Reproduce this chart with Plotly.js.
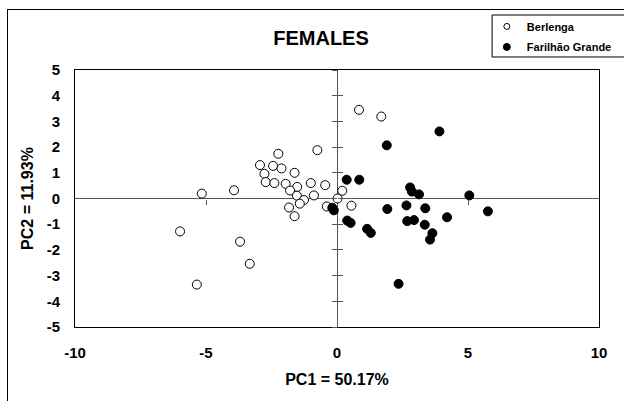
<!DOCTYPE html>
<html>
<head>
<meta charset="utf-8">
<script src="https://cdn.plot.ly/plotly-3.0.1.min.js"></script>
<style>
  html, body { margin: 0; padding: 0; background: #fff; overflow: hidden; }
  #wrap { position: relative; width: 624px; height: 401px; overflow: hidden; }
  #chart { position: absolute; left: 0; top: 0; width: 624px; height: 401px; }
  #frame { position: absolute; left: 7px; top: 9px; width: 700px; height: 500px; border: 1px solid #000; pointer-events: none; }
</style>
</head>
<body>
<div id="wrap">
  <div id="chart"></div>
  <div id="frame"></div>
</div>
<script>
// Berlenga (open circles)
const berlengaPC1 = [0.84, 1.69, -0.75, -2.24, -2.94, -2.44, -2.12, -2.77, -1.62, -2.72, -2.39, -1.96, -1.00, -0.45, -1.52, -1.79, -1.53, -0.88, -1.26, -1.42, -1.83, -1.62, 0.20, 0.02, -0.39, 0.55, -5.16, -3.93, -5.99, -3.70, -3.33, -5.35];
const berlengaPC2 = [3.45, 3.19, 1.88, 1.74, 1.30, 1.27, 1.17, 0.96, 1.00, 0.64, 0.60, 0.57, 0.60, 0.52, 0.45, 0.31, 0.11, 0.12, -0.06, -0.20, -0.35, -0.69, 0.30, 0.00, -0.31, -0.28, 0.19, 0.32, -1.28, -1.68, -2.54, -3.35];
// Farilhão Grande (filled circles)
const farilhaoPC1 = [3.91, 1.90, 0.37, 0.85, 2.79, 2.86, 3.13, 5.05, -0.18, -0.12, 0.39, 0.52, 1.15, 1.29, 1.92, 2.65, 3.37, 2.68, 2.94, 3.35, 3.64, 3.55, 4.20, 5.76, 2.35];
const farilhaoPC2 = [2.61, 2.07, 0.73, 0.73, 0.43, 0.27, 0.16, 0.12, -0.36, -0.46, -0.86, -0.95, -1.18, -1.34, -0.41, -0.27, -0.38, -0.88, -0.84, -1.02, -1.35, -1.60, -0.73, -0.50, -3.32];

const seriesNames = ["Berlenga", "Farilhão Grande"];
const xTicks = [-10, -5, 0, 5, 10];
const yTicks = [-5, -4, -3, -2, -1, 0, 1, 2, 3, 4, 5];

const FONT = "Arial, 'Liberation Sans', sans-serif";

const traces = [
  { type: "scatter", mode: "markers", x: berlengaPC1, y: berlengaPC2, name: seriesNames[0], showlegend: false,
    marker: { symbol: "circle", size: 9, color: "#fff", line: { color: "#000", width: 1 } }, hoverinfo: "x+y" },
  { type: "scatter", mode: "markers", x: farilhaoPC1, y: farilhaoPC2, name: seriesNames[1], showlegend: false,
    marker: { symbol: "circle", size: 9, color: "#000", line: { color: "#000", width: 1 } }, hoverinfo: "x+y" },
  // legend entries
  { type: "scatter", mode: "markers", x: [null], y: [null], name: "<b>" + seriesNames[0] + "</b>", legendgroup: "a",
    marker: { symbol: "circle", size: 6, color: "#fff", line: { color: "#000", width: 1 } } },
  { type: "scatter", mode: "markers", x: [null], y: [null], name: "<b>" + seriesNames[1] + "</b>", legendgroup: "b",
    marker: { symbol: "circle", size: 7, color: "#000", line: { color: "#000", width: 1 } } },
  // carriers for the cross axes
  { type: "scatter", mode: "markers", x: [], y: [], xaxis: "x", yaxis: "y2", showlegend: false, hoverinfo: "skip" },
  { type: "scatter", mode: "markers", x: [], y: [], xaxis: "x", yaxis: "y3", showlegend: false, hoverinfo: "skip" },
  { type: "scatter", mode: "markers", x: [], y: [], xaxis: "x2", yaxis: "y", showlegend: false, hoverinfo: "skip" }
];

const layout = {
  width: 624, height: 401,
  margin: { l: 75, r: 25, t: 70, b: 74, autoexpand: false },
  paper_bgcolor: "#fff", plot_bgcolor: "#fff",
  font: { family: FONT, color: "#000" },
  title: { text: "<b>FEMALES</b>", font: { size: 20, family: FONT, color: "#000" },
           x: 0.4695, xref: "paper", xanchor: "center", y: 1 - 37.5 / 401, yref: "container", yanchor: "middle" },
  showlegend: true,
  legend: {
    x: 0.786, y: 1.226, xanchor: "left", yanchor: "top", xref: "paper", yref: "paper",
    bgcolor: "rgba(0,0,0,0)", borderwidth: 0,
    font: { size: 11, family: FONT, color: "#000" },
    itemwidth: 30, tracegroupgap: 1.5, traceorder: "grouped"
  },
  shapes: [
    { type: "rect", xref: "paper", yref: "paper", x0: 0.796, x1: 1.2, y0: 1.0506, y1: 1.214,
      line: { color: "#000", width: 1 }, fillcolor: "#fff", layer: "above" }
  ],
  xaxis: {
    range: [-10, 10], tickvals: xTicks, ticktext: xTicks.map(String),
    showgrid: false, zeroline: true, zerolinecolor: "#555", zerolinewidth: 1,
    showline: true, mirror: true, linecolor: "#000", linewidth: 1,
    ticks: "", ticklabelstandoff: 12,
    tickfont: { size: 15, family: FONT, color: "#000", weight: "bold" },
    title: { text: "<b>PC1 = 50.17%</b>", font: { size: 16, family: FONT, color: "#000" } },
    fixedrange: true
  },
  yaxis: {
    range: [-5, 5], tickvals: yTicks, ticktext: yTicks.map(String),
    showgrid: false, zeroline: true, zerolinecolor: "#555", zerolinewidth: 1,
    showline: true, mirror: true, linecolor: "#000", linewidth: 1,
    ticks: "", ticklabelstandoff: 11,
    tickfont: { size: 15, family: FONT, color: "#000", weight: "bold" },
    title: { text: "<b>PC2 = 11.93%</b>", font: { size: 16, family: FONT, color: "#000" } },
    fixedrange: true
  },
  yaxis2: {
    overlaying: "y", anchor: "free", position: 0.5, side: "left", range: [-5, 5], dtick: 1, tick0: 0,
    ticks: "outside", ticklen: 5, tickcolor: "#555", tickwidth: 1,
    showticklabels: false, showline: false, showgrid: false, zeroline: false, fixedrange: true
  },
  yaxis3: {
    overlaying: "y", anchor: "free", position: 0.5, side: "left", range: [-5, 5], dtick: 1, tick0: 0,
    ticks: "inside", ticklen: 5, tickcolor: "#555", tickwidth: 1,
    showticklabels: false, showline: false, showgrid: false, zeroline: false, fixedrange: true
  },
  xaxis2: {
    overlaying: "x", anchor: "free", position: 0.5, side: "bottom", range: [-10, 10], tickvals: [-5, 5],
    ticks: "outside", ticklen: 5, tickcolor: "#555", tickwidth: 1,
    showticklabels: false, showline: false, showgrid: false, zeroline: false, fixedrange: true
  }
};

Plotly.newPlot("chart", traces, layout, { displayModeBar: false, staticPlot: true });
</script>
</body>
</html>
